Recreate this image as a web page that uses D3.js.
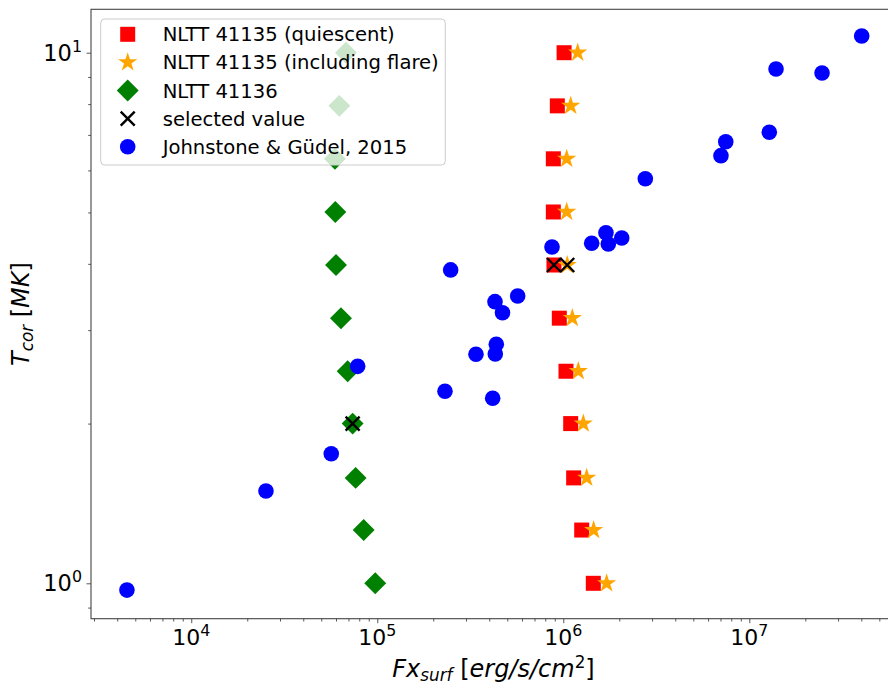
<!DOCTYPE html>
<html>
<head>
<meta charset="utf-8">
<script src="https://cdn.jsdelivr.net/npm/d3@7"></script>
<style>
  body { margin: 0; background: #fff; }
  svg { display: block; }
  text { font-family: "DejaVu Sans", sans-serif; fill: #000; }
</style>
</head>
<body>
<svg id="chart" width="888" height="684"></svg>
<script>
// Coronal temperature grid (MK) shared by the NLTT model rows
const tempLevels = [1.0, 1.26, 1.58, 2.0, 2.51, 3.16, 3.98, 5.01, 6.31, 7.94, 10.0];
// Surface X-ray flux (erg/s/cm^2) at each temperature
const quiescentFx = [1.45e6, 1.256e6, 1.137e6, 1.096e6, 1.034e6, 9.52e5, 8.91e5, 8.84e5, 8.84e5, 9.29e5, 1.01e6];
const flareFx     = [1.71e6, 1.456e6, 1.336e6, 1.281e6, 1.204e6, 1.118e6, 1.05e6, 1.043e6, 1.043e6, 1.096e6, 1.195e6];
const nltt41136Fx = [9.75e4, 8.45e4, 7.65e4, 7.37e4, 6.93e4, 6.38e4, 6.0e4, 5.95e4, 5.92e4, 6.25e4, 6.79e4];
// Adopted values
const selectedFx = [8.91e5, 1.05e6, 7.37e4];
const selectedT  = [3.98, 3.98, 2.0];
// Johnstone & Güdel (2015) sample
const jgFx = [4510, 25210, 56570, 78450, 231200, 248000, 339300, 417300, 429400, 436300, 430900, 471100,
              568600, 869600, 1.421e6, 1.696e6, 1.746e6, 2.061e6, 2.76e6, 7.04e6, 7.47e6, 1.281e7,
              1.392e7, 2.46e7, 4.02e7];
const jgT  = [0.971, 1.493, 1.755, 2.564, 2.301, 3.896, 2.702, 2.232, 3.395, 2.821, 2.705, 3.236,
              3.480, 4.303, 4.373, 4.579, 4.359, 4.474, 5.788, 6.397, 6.797, 7.079,
              9.318, 9.156, 10.75];
// Axis decades
const xTickExps = [4, 5, 6, 7];
const yTickExps = [0, 1];
const legendLabels = ["NLTT 41135 (quiescent)", "NLTT 41135 (including flare)", "NLTT 41136",
                      "selected value", "Johnstone & Güdel, 2015"];

const svg = d3.select("#chart");
const plot = { left: 91, right: 889, top: 9.3, bottom: 618.7 };

const x = d3.scaleLog().domain([Math.pow(10, 3.461), Math.pow(10, 7.751)]).range([plot.left, plot.right]);
const y = d3.scaleLog().domain([Math.pow(10, -0.0667), Math.pow(10, 1.0818)]).range([plot.bottom, plot.top]);

// Minor ticks for every decade in view
function minorTicks(scale) {
  const [a, b] = scale.domain();
  const out = [];
  for (let e = Math.floor(Math.log10(a)); e <= Math.ceil(Math.log10(b)); e++) {
    for (let m = 2; m <= 9; m++) {
      const v = m * Math.pow(10, e);
      if (v >= a && v <= b) out.push(v);
    }
  }
  return out;
}

const axisColor = "#444";

// X axis
const gx = svg.append("g").attr("transform", `translate(0,${plot.bottom})`);
gx.append("g").call(d3.axisBottom(x).tickValues(minorTicks(x)).tickSize(2.8).tickFormat(""));
gx.append("g").call(d3.axisBottom(x).tickValues(xTickExps.map(e => Math.pow(10, e))).tickSize(4.5).tickFormat(""));
gx.selectAll(".domain").remove();
gx.selectAll("line").attr("stroke", axisColor).attr("stroke-width", 0.9);

// Y axis
const gy = svg.append("g").attr("transform", `translate(${plot.left},0)`);
gy.append("g").call(d3.axisLeft(y).tickValues(minorTicks(y)).tickSize(2.8).tickFormat(""));
gy.append("g").call(d3.axisLeft(y).tickValues(yTickExps.map(e => Math.pow(10, e))).tickSize(4.5).tickFormat(""));
gy.selectAll(".domain").remove();
gy.selectAll("line").attr("stroke", axisColor).attr("stroke-width", 0.9);

// Power-of-ten tick labels
const tickFont = 22;
xTickExps.forEach(e => {
  const t = svg.append("text")
    .attr("x", x(Math.pow(10, e)))
    .attr("y", plot.bottom + 26)
    .attr("text-anchor", "middle")
    .style("font-size", tickFont + "px");
  t.append("tspan").text("10");
  t.append("tspan").attr("dy", -9).style("font-size", (tickFont * 0.72) + "px").text(e);
});
yTickExps.forEach(e => {
  const t = svg.append("text")
    .attr("x", plot.left - 9)
    .attr("y", y(Math.pow(10, e)) + 8)
    .attr("text-anchor", "end")
    .style("font-size", (tickFont + 0.5) + "px");
  t.append("tspan").text("10");
  t.append("tspan").attr("dy", -9).style("font-size", (tickFont * 0.72) + "px").text(e);
});

// Axis titles
const labelFont = 24;
const xl = svg.append("text")
  .attr("x", (plot.left + 888) / 2 + 4)
  .attr("y", 677)
  .attr("text-anchor", "middle")
  .style("font-size", labelFont + "px");
xl.append("tspan").style("font-style", "italic").text("Fx");
xl.append("tspan").style("font-style", "italic").style("font-size", (labelFont * 0.7) + "px").attr("dy", 4).text("surf");
xl.append("tspan").attr("dy", -4).text(" [");
xl.append("tspan").style("font-style", "italic").text("erg/s/cm");
xl.append("tspan").style("font-size", (labelFont * 0.7) + "px").attr("dy", -9).text("2");
xl.append("tspan").attr("dy", 9).text("]");

const yl = svg.append("text")
  .attr("transform", `translate(29,${(plot.top + plot.bottom) / 2}) rotate(-90)`)
  .attr("text-anchor", "middle")
  .style("font-size", labelFont + "px");
yl.append("tspan").style("font-style", "italic").text("T");
yl.append("tspan").style("font-style", "italic").style("font-size", (labelFont * 0.7) + "px").attr("dy", 4).text("cor");
yl.append("tspan").attr("dy", -4).text(" [");
yl.append("tspan").style("font-style", "italic").text("MK");
yl.append("tspan").text("]");

// Marker shapes
const sq = d3.symbol().type(d3.symbolSquare).size(225)();
const star = d3.symbol().type(d3.symbolStar).size(115)();
const diamond = d3.symbol().type(d3.symbolSquare).size(240)();
const circleR = 7.8;
const crossHalf = 7;

function drawSquare(g, cx, cy) {
  g.append("path").attr("d", sq).attr("transform", `translate(${cx},${cy})`).attr("fill", "red");
}
function drawStar(g, cx, cy) {
  g.append("path").attr("d", star).attr("transform", `translate(${cx},${cy})`).attr("fill", "orange");
}
function drawDiamond(g, cx, cy) {
  g.append("path").attr("d", diamond).attr("transform", `translate(${cx},${cy}) rotate(45)`).attr("fill", "green");
}
function drawCross(g, cx, cy) {
  g.append("path")
    .attr("d", `M${-crossHalf},${-crossHalf}L${crossHalf},${crossHalf}M${-crossHalf},${crossHalf}L${crossHalf},${-crossHalf}`)
    .attr("transform", `translate(${cx},${cy})`)
    .attr("stroke", "black").attr("stroke-width", 2.4).attr("fill", "none");
}
function drawCircle(g, cx, cy) {
  g.append("circle").attr("cx", cx).attr("cy", cy).attr("r", circleR).attr("fill", "blue");
}

const marks = svg.append("g");
tempLevels.forEach((t, i) => drawSquare(marks, x(quiescentFx[i]), y(t)));
tempLevels.forEach((t, i) => drawStar(marks, x(flareFx[i]), y(t)));
tempLevels.forEach((t, i) => drawDiamond(marks, x(nltt41136Fx[i]), y(t)));
selectedFx.forEach((f, i) => drawCross(marks, x(f), y(selectedT[i])));
jgFx.forEach((f, i) => drawCircle(marks, x(f), y(jgT[i])));

// Frame
svg.append("rect")
  .attr("x", plot.left).attr("y", plot.top)
  .attr("width", plot.right - plot.left).attr("height", plot.bottom - plot.top)
  .attr("fill", "none").attr("stroke", axisColor).attr("stroke-width", 1.1);

// Legend
const lg = svg.append("g");
lg.append("rect")
  .attr("x", 100.7).attr("y", 19).attr("width", 344.6).attr("height", 146).attr("rx", 4)
  .attr("fill", "white").attr("fill-opacity", 0.8)
  .attr("stroke", "#cccccc").attr("stroke-width", 1);
const drawers = [drawSquare, drawStar, drawDiamond, drawCross, drawCircle];
legendLabels.forEach((lab, i) => {
  const cy = 34.3 + i * 28.1;
  drawers[i](lg, 127.7, cy);
  lg.append("text").attr("x", 162.7).attr("y", cy + 7).style("font-size", "19.6px").text(lab);
});
</script>
</body>
</html>
